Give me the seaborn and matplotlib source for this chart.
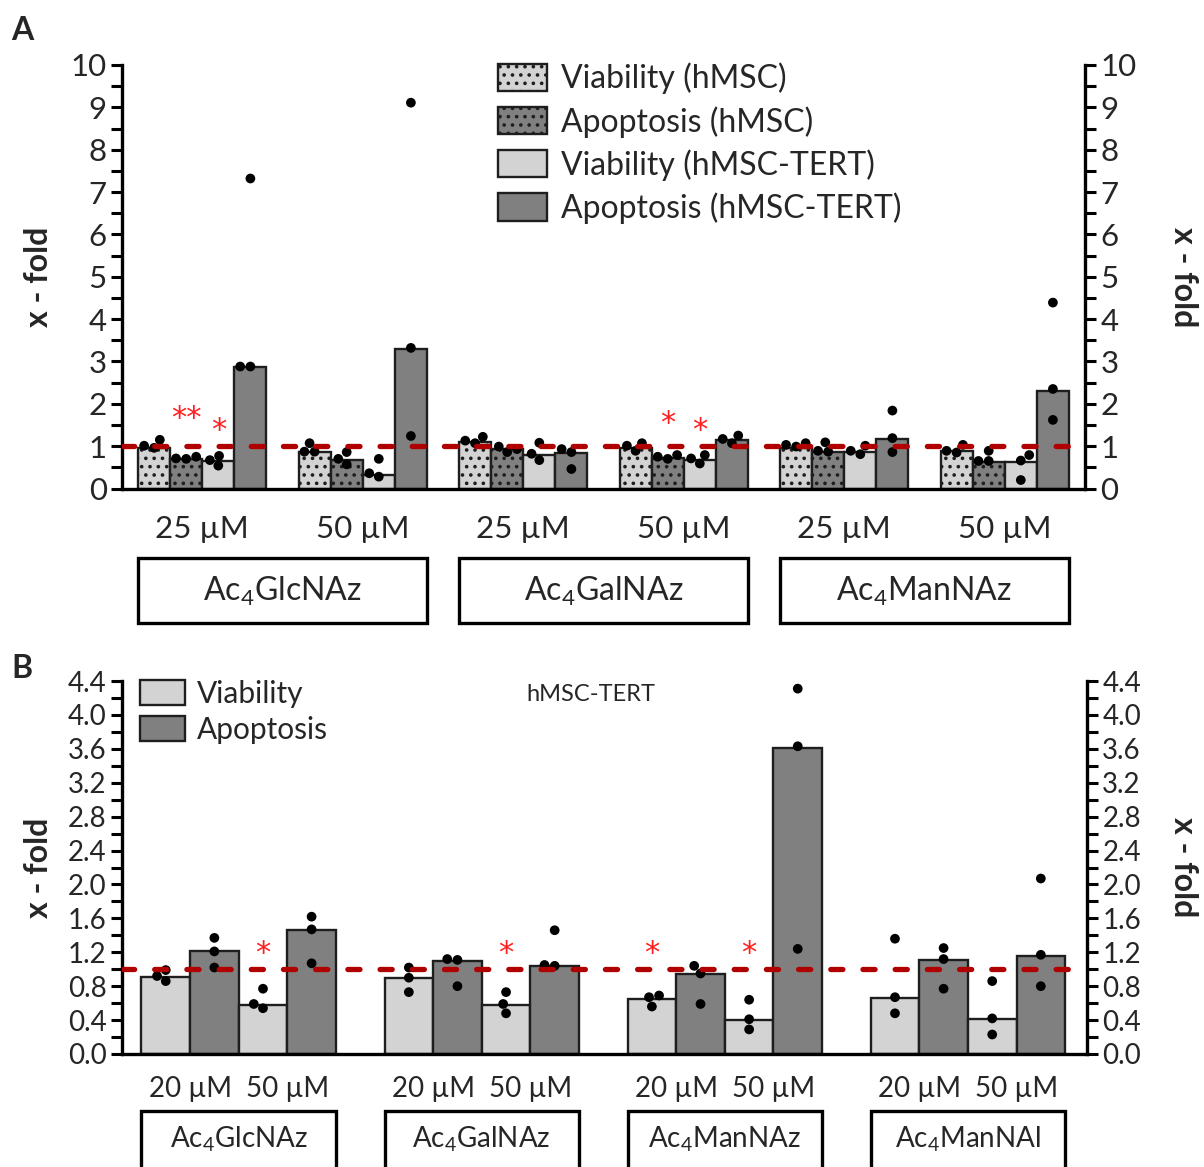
import numpy as np
import pandas as pd
import seaborn as sns
import matplotlib.pyplot as plt
import matplotlib.transforms as mtransforms
from matplotlib.patches import Patch, Rectangle

# ---------------- data: panel A ----------------
a_compounds = ["Ac$_4$GlcNAz", "Ac$_4$GalNAz", "Ac$_4$ManNAz"]
a_conc = ["25 µM", "50 µM"]
a_series = ["Viability (hMSC)", "Apoptosis (hMSC)",
            "Viability (hMSC-TERT)", "Apoptosis (hMSC-TERT)"]

# bar heights (median), one per group: GlcNAz 25/50, GalNAz 25/50, ManNAz 25/50
a_bar_viab_hmsc = [0.95, 0.86, 1.09, 0.95, 0.96, 0.89]
a_bar_apop_hmsc = [0.70, 0.67, 0.93, 0.71, 0.87, 0.63]
a_bar_viab_tert = [0.65, 0.33, 0.78, 0.67, 0.87, 0.63]
a_bar_apop_tert = [2.87, 3.30, 0.83, 1.15, 1.17, 2.30]

# replicate points
a_pts_viab_hmsc = [[1.15, 0.96, 1.01], [1.07, 0.87, 0.87], [1.22, 1.07, 1.13],
                   [1.07, 0.89, 1.01], [1.07, 0.99, 1.03], [1.03, 0.85, 0.89]]
a_pts_apop_hmsc = [[0.75, 0.70, 0.71], [0.86, 0.57, 0.70], [0.99, 0.86, 0.93],
                   [0.79, 0.70, 0.75], [1.09, 0.87, 0.89], [0.89, 0.65, 0.65]]
a_pts_viab_tert = [[0.77, 0.54, 0.67], [0.70, 0.28, 0.36], [1.08, 0.67, 0.82],
                   [0.79, 0.59, 0.71], [1.01, 0.81, 0.89], [0.79, 0.66, 0.20]]
a_pts_apop_tert = [[7.32, 2.88, 2.88], [9.11, 3.32, 1.24], [0.93, 0.86, 0.46],
                   [1.25, 1.07, 1.17], [1.84, 1.19, 0.86], [4.39, 2.35, 1.62]]

# significance marks: (group index, series index, text, y)
a_stars = [(0, 1, "**", 1.66), (0, 2, "*", 1.36), (3, 1, "*", 1.54), (3, 2, "*", 1.38)]

# ---------------- data: panel B ----------------
b_compounds = ["Ac$_4$GlcNAz", "Ac$_4$GalNAz", "Ac$_4$ManNAz", "Ac$_4$ManNAl"]
b_conc = ["20 µM", "50 µM"]
b_series = ["Viability 20", "Apoptosis 20", "Viability 50", "Apoptosis 50"]

b_bar_viab20 = [0.91, 0.90, 0.65, 0.66]
b_bar_apop20 = [1.21, 1.10, 0.94, 1.11]
b_bar_viab50 = [0.58, 0.58, 0.40, 0.41]
b_bar_apop50 = [1.46, 1.04, 3.61, 1.16]

b_pts_viab20 = [[0.99, 0.86, 0.92], [1.02, 0.90, 0.73], [0.69, 0.56, 0.67], [1.36, 0.67, 0.48]]
b_pts_apop20 = [[1.37, 1.21, 1.02], [1.12, 1.11, 0.80], [1.04, 0.95, 0.59], [1.25, 1.12, 0.77]]
b_pts_viab50 = [[0.77, 0.54, 0.59], [0.73, 0.48, 0.59], [0.64, 0.29, 0.41], [0.86, 0.42, 0.23]]
b_pts_apop50 = [[1.62, 1.47, 1.07], [1.46, 1.04, 1.05], [4.31, 3.63, 1.24], [2.07, 1.17, 0.80]]

b_stars = [(0, 2, "*", 1.19), (1, 2, "*", 1.19), (2, 0, "*", 1.19), (2, 2, "*", 1.19)]

# ---------------- style ----------------
LIGHT = "#d3d3d3"
DARK = "#808080"
EDGE = "#1e1e1e"
RED = "#b00000"

sns.set_theme(style="ticks")
plt.rcParams["font.family"] = ["Lato", "DejaVu Sans"]
plt.rcParams["mathtext.fontset"] = "custom"
plt.rcParams["mathtext.rm"] = "Lato"
plt.rcParams["mathtext.it"] = "Lato:italic"
plt.rcParams["hatch.linewidth"] = 1.4
plt.rcParams["axes.edgecolor"] = "black"


def long_table(keys, series, cols):
    rows = []
    for s, col in zip(series, cols):
        for k, v in zip(keys, col):
            if isinstance(v, list):
                for p in v:
                    rows.append((k, s, p))
            else:
                rows.append((k, s, v))
    return pd.DataFrame(rows, columns=["group", "series", "value"])


def style_axes(ax, ax2, ymax, major, minor, fmt, label_fs):
    ticks = np.arange(0, ymax + 1e-9, major)
    for a in (ax, ax2):
        a.set_ylim(0, ymax)
        a.set_yticks(ticks)
        a.set_yticks(np.arange(0, ymax + 1e-9, minor), minor=True)
        a.set_yticklabels([fmt.format(t) for t in ticks])
        a.tick_params(axis="y", which="major", length=8, width=2.2, direction="out",
                      labelsize=label_fs, pad=3, color="black")
        a.tick_params(axis="y", which="minor", length=8, width=2.2, direction="out",
                      color="black")
        for sp in a.spines.values():
            sp.set_linewidth(2.4)
            sp.set_color("black")
        a.spines["top"].set_visible(False)
    ax.spines["right"].set_visible(False)
    for side in ("left", "bottom"):
        ax2.spines[side].set_visible(False)
    ax.tick_params(axis="x", length=0, labelsize=label_fs)


def draw_panel(ax, keys, series, bar_cols, pt_cols, colors, hatched, stars):
    bars = long_table(keys, series, bar_cols)
    pts = long_table(keys, series, pt_cols)
    sns.barplot(data=bars, x="group", y="value", hue="series", order=keys,
                hue_order=series, palette=colors, saturation=1, width=0.8, gap=0,
                edgecolor=EDGE, linewidth=1.7, errorbar=None, legend=False, ax=ax,
                zorder=2)
    for i in hatched:
        for b in ax.containers[i]:
            b.set_hatch("..")
    sns.swarmplot(data=pts, x="group", y="value", hue="series", order=keys,
                  hue_order=series, palette=["black"] * len(series), dodge=True,
                  size=7, legend=False, ax=ax, zorder=4)
    ax.axhline(1.0, color=RED, lw=3.8, dashes=(2.3, 3.8), dash_capstyle="round",
               zorder=6)
    for g, s, txt, y in stars:
        b = ax.containers[s][g]
        ax.text(b.get_x() + b.get_width() / 2, y, txt, color="#ff1f1f",
                ha="center", va="center", fontsize=22, family="DejaVu Sans",
                zorder=7)
    ax.set_xlabel("")
    ax.set_ylabel("")


fig = plt.figure(figsize=(12.04, 11.67), dpi=100)

# ---------------- panel A ----------------
axA = fig.add_axes([122 / 1204, 1 - 488.5 / 1167, 963 / 1204, 423.5 / 1167])
a_keys = [f"{c}|{k}" for c in a_compounds for k in a_conc]
draw_panel(axA, a_keys, a_series,
           [a_bar_viab_hmsc, a_bar_apop_hmsc, a_bar_viab_tert, a_bar_apop_tert],
           [a_pts_viab_hmsc, a_pts_apop_hmsc, a_pts_viab_tert, a_pts_apop_tert],
           [LIGHT, DARK, LIGHT, DARK], [0, 1], a_stars)
axA.set_xlim(-0.5, len(a_keys) - 0.5)
axA2 = axA.twinx()
style_axes(axA, axA2, 10, 1, 0.5, "{:.0f}", 22.5)
axA.set_xticks(range(len(a_keys)))
axA.set_xticklabels(a_conc * len(a_compounds))
axA.tick_params(axis="x", pad=19)

trA = mtransforms.blended_transform_factory(axA.transData, axA.transAxes)
for j, name in enumerate(a_compounds):
    x0 = 2 * j - 0.4
    axA.add_patch(Rectangle((x0, -0.318), 1.8, 0.154, transform=trA, fill=False,
                            lw=2.4, edgecolor="black", clip_on=False))
    axA.text(x0 + 0.9, -0.243, name, transform=trA, ha="center", va="center",
             fontsize=23)

handlesA = [Patch(facecolor=c, edgecolor=EDGE, hatch=h, lw=1.7, label=l)
            for c, h, l in zip([LIGHT, DARK, LIGHT, DARK], ["..", "..", "", ""], a_series)]
axA.legend(handles=handlesA, loc="upper left", bbox_to_anchor=(0.39, 1.005),
           frameon=False, fontsize=23, handlelength=1.56, handleheight=0.94,
           handletextpad=0.42, labelspacing=0.36, borderpad=0, borderaxespad=0)

for a, xpos in ((axA, -0.087), (axA2, 1.102)):
    a.set_ylabel("x - fold", fontsize=23, fontweight="bold",
                 rotation=90 if a is axA else 270, va="center")
    a.yaxis.set_label_coords(xpos, 0.5)

# ---------------- panel B ----------------
axB = fig.add_axes([122 / 1204, 1 - 1054 / 1167, 965 / 1204, 373 / 1167])
draw_panel(axB, b_compounds, b_series,
           [b_bar_viab20, b_bar_apop20, b_bar_viab50, b_bar_apop50],
           [b_pts_viab20, b_pts_apop20, b_pts_viab50, b_pts_apop50],
           [LIGHT, DARK, LIGHT, DARK], [], b_stars)
axB.set_xlim(-0.48, len(b_compounds) - 0.51)
axB2 = axB.twinx()
style_axes(axB, axB2, 4.4, 0.4, 0.2, "{:.1f}", 20)
axB.set_xticks([i + d for i in range(len(b_compounds)) for d in (-0.2, 0.2)])
axB.set_xticklabels(b_conc * len(b_compounds))
axB.tick_params(axis="x", pad=16)

trB = mtransforms.blended_transform_factory(axB.transData, axB.transAxes)
for j, name in enumerate(b_compounds):
    axB.add_patch(Rectangle((j - 0.4, -0.36), 0.8, 0.207, transform=trB, fill=False,
                            lw=2.4, edgecolor="black", clip_on=False))
    axB.text(j, -0.228, name, transform=trB, ha="center", va="center", fontsize=20)

handlesB = [Patch(facecolor=LIGHT, edgecolor=EDGE, lw=1.7, label="Viability"),
            Patch(facecolor=DARK, edgecolor=EDGE, lw=1.7, label="Apoptosis")]
axB.legend(handles=handlesB, loc="upper left", bbox_to_anchor=(0.019, 1.003),
           frameon=False, fontsize=21.5, handlelength=1.5, handleheight=0.9,
           handletextpad=0.4, labelspacing=0.27, borderpad=0, borderaxespad=0)
axB.text(0.486, 0.965, "hMSC-TERT", transform=axB.transAxes, ha="center",
         va="center", fontsize=17)

for a, xpos in ((axB, -0.087), (axB2, 1.10)):
    a.set_ylabel("x - fold", fontsize=23, fontweight="bold",
                 rotation=90 if a is axB else 270, va="center")
    a.yaxis.set_label_coords(xpos, 0.5)

fig.text(22 / 1204, 1 - 30 / 1167, "A", fontsize=23, fontweight="bold",
         ha="center", va="center")
fig.text(22 / 1204, 1 - 668 / 1167, "B", fontsize=23, fontweight="bold",
         ha="center", va="center")

fig.savefig("out.png", dpi=100)
